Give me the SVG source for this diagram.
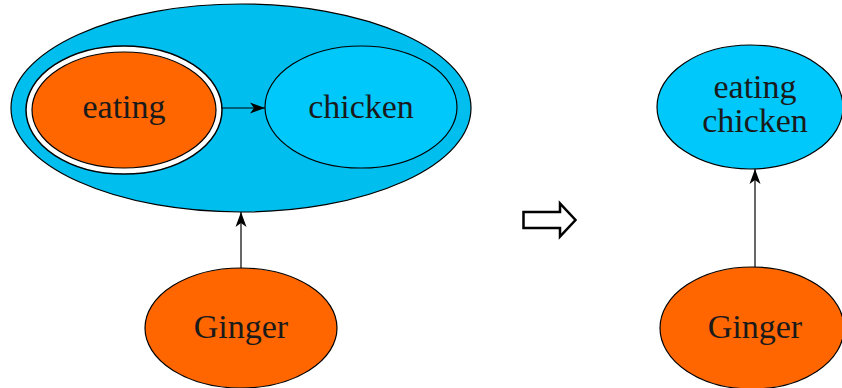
<svg xmlns="http://www.w3.org/2000/svg" width="842" height="388" viewBox="0 0 842 388">
  <defs>
    <style>
      .lbl { font-family: "Liberation Serif", "DejaVu Serif", serif; font-size: 34px; fill: #1a1a1a; text-anchor: middle; }
      .orange { fill: #FF6600; stroke: #000; stroke-width: 1.2; }
      .blue { fill: #00C8FA; stroke: #000; stroke-width: 1.2; }
      .outer { fill: #00BFEF; stroke: #000; stroke-width: 1.2; }
      .edge { fill: none; stroke: #000; stroke-width: 1.2; }
    </style>
    <marker id="head" viewBox="-16 -7 18 14" markerWidth="18" markerHeight="14" refX="0" refY="0" orient="auto" markerUnits="userSpaceOnUse">
      <path d="M0,0 L-15,-5.5 L-11,0 L-15,5.5 Z" fill="#000"/>
    </marker>
  </defs>

  <!-- left: compound node containing eating -> chicken -->
  <g id="compound">
    <ellipse class="outer" cx="241" cy="108" rx="230" ry="104"/>
  </g>
  <g id="eating">
    <ellipse cx="124" cy="110" rx="98" ry="64" fill="#fff" stroke="#000" stroke-width="1.5"/>
    <ellipse class="orange" cx="124" cy="110" rx="92" ry="58" stroke-width="1.5"/>
    <text class="lbl" x="124" y="118">eating</text>
  </g>
  <g id="chicken">
    <ellipse class="blue" cx="361" cy="107" rx="96" ry="61"/>
    <text class="lbl" x="361" y="118">chicken</text>
  </g>
  <g id="ginger-left">
    <ellipse class="orange" cx="241" cy="328" rx="96" ry="60"/>
    <text class="lbl" x="241" y="338">Ginger</text>
  </g>

  <!-- right: merged node -->
  <g id="eating-chicken">
    <ellipse class="blue" cx="750" cy="107" rx="93" ry="62"/>
    <text class="lbl" x="755" y="98">eating</text>
    <text class="lbl" x="755" y="132">chicken</text>
  </g>
  <g id="ginger-right">
    <ellipse class="orange" cx="752" cy="328" rx="92" ry="61"/>
    <text class="lbl" x="755" y="338">Ginger</text>
  </g>

  <!-- transformation arrow -->
  <g id="transform">
    <path d="M523.5,212 L560,212 L560,203.5 L575.5,220 L560,236.5 L560,228 L523.5,228 Z" fill="#fff" stroke="#000" stroke-width="2.5" stroke-linejoin="miter"/>
  </g>

  <!-- connectors -->
  <g id="edges">
    <line class="edge" x1="222" y1="108" x2="265" y2="108" marker-end="url(#head)"/>
    <line class="edge" x1="241" y1="268" x2="241" y2="212" marker-end="url(#head)"/>
    <line class="edge" x1="755" y1="267" x2="755" y2="169" stroke="#444" marker-end="url(#head)"/>
  </g>
</svg>
